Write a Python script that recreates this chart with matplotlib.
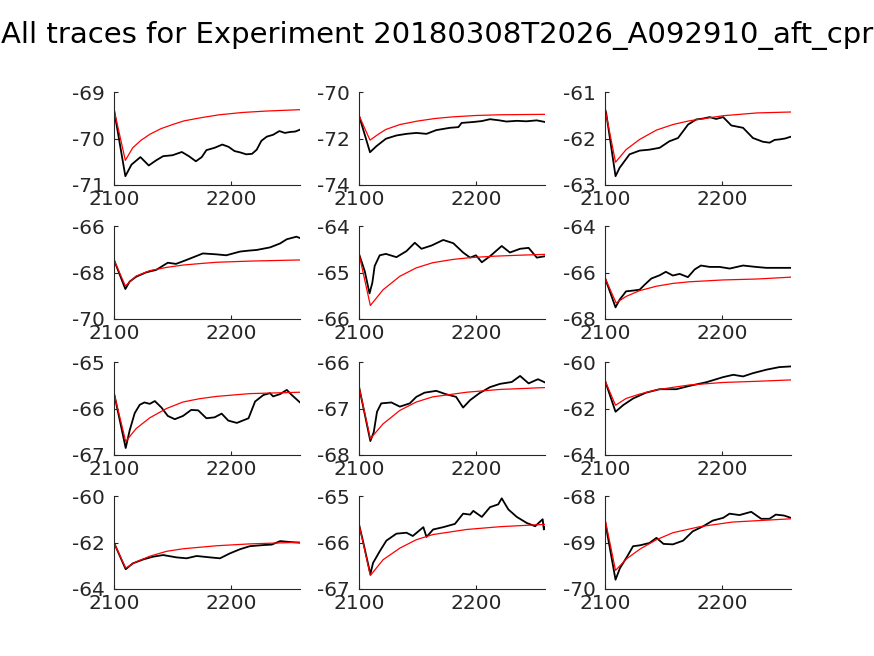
import matplotlib
matplotlib.use("Agg")
import matplotlib.pyplot as plt

title = "All traces for Experiment 20180308T2026_A092910_aft_cpr"

# ---- panel data (time, value) ----
p1_t = [2100, 2109.7, 2115, 2122.6, 2129.7, 2136, 2142, 2150, 2158, 2164, 2170, 2175, 2179, 2186, 2192.6, 2198, 2203, 2208, 2213, 2218, 2222, 2226, 2230.6, 2236, 2241.4, 2246, 2250.6, 2255, 2259]
p1_v = [-69.38, -70.81, -70.56, -70.40, -70.58, -70.47, -70.38, -70.36, -70.29, -70.38, -70.49, -70.40, -70.25, -70.20, -70.13, -70.18, -70.27, -70.30, -70.34, -70.33, -70.24, -70.05, -69.96, -69.92, -69.84, -69.88, -69.86, -69.85, -69.81]
p1_ft = [2100, 2109.7, 2116, 2123, 2130.6, 2140, 2150, 2160, 2175, 2190, 2210, 2230, 2259]
p1_fv = [-69.38, -70.47, -70.20, -70.04, -69.91, -69.79, -69.70, -69.62, -69.55, -69.49, -69.44, -69.41, -69.38]

p2_t = [2100, 2109.4, 2114.9, 2123, 2132, 2140.6, 2149, 2157.7, 2166, 2177.7, 2185, 2187.7, 2197.7, 2205, 2212, 2220, 2226, 2235, 2243, 2252, 2259]
p2_v = [-71.01, -72.59, -72.33, -72.01, -71.87, -71.80, -71.76, -71.80, -71.64, -71.54, -71.51, -71.33, -71.29, -71.25, -71.17, -71.22, -71.27, -71.24, -71.26, -71.22, -71.29]
p2_ft = [2100, 2109.4, 2117, 2123, 2135, 2150, 2165, 2180, 2200, 2220, 2240, 2259]
p2_fv = [-71.01, -72.07, -71.80, -71.61, -71.40, -71.25, -71.14, -71.07, -71.01, -70.98, -70.97, -70.96]

p3_t = [2100, 2101, 2109, 2112.5, 2121, 2129.6, 2138, 2146.7, 2155, 2162.4, 2171, 2178, 2184, 2189.5, 2195, 2201, 2208, 2218, 2226.5, 2235, 2240.7, 2245, 2249, 2254, 2259]
p3_v = [-61.36, -61.45, -62.81, -62.63, -62.34, -62.26, -62.24, -62.20, -62.06, -61.99, -61.70, -61.59, -61.57, -61.54, -61.58, -61.54, -61.72, -61.77, -61.99, -62.07, -62.09, -62.03, -62.02, -62.00, -61.96]
p3_ft = [2100, 2109, 2118, 2129.6, 2143.9, 2158, 2172, 2201, 2230, 2259]
p3_fv = [-61.36, -62.51, -62.24, -62.02, -61.82, -61.70, -61.62, -61.51, -61.45, -61.43]

p4_t = [2100, 2109.7, 2113.4, 2119, 2127.7, 2136, 2146, 2153, 2162, 2170, 2176, 2187.7, 2196, 2207.7, 2215, 2222, 2233.4, 2242, 2247.7, 2256, 2259]
p4_v = [-67.46, -68.71, -68.39, -68.18, -67.99, -67.89, -67.58, -67.63, -67.46, -67.30, -67.18, -67.22, -67.26, -67.10, -67.06, -67.03, -66.92, -66.75, -66.57, -66.46, -66.52]
p4_ft = [2100, 2109.7, 2119, 2130.6, 2145, 2159, 2175, 2187.7, 2216, 2259]
p4_fv = [-67.46, -68.58, -68.15, -67.92, -67.78, -67.68, -67.61, -67.56, -67.51, -67.46]

p5_t = [2100, 2104.9, 2109, 2111.4, 2113.4, 2117.7, 2123, 2132, 2140.6, 2147.7, 2153.4, 2162, 2172, 2180.6, 2189, 2195, 2200, 2205, 2212, 2222, 2229, 2237.7, 2245, 2252, 2259]
p5_v = [-64.60, -64.97, -65.45, -65.22, -64.86, -64.63, -64.60, -64.67, -64.54, -64.36, -64.49, -64.42, -64.30, -64.37, -64.57, -64.68, -64.63, -64.78, -64.65, -64.43, -64.57, -64.49, -64.47, -64.68, -64.65]
p5_ft = [2100, 2109.7, 2120.6, 2135, 2149, 2163, 2180, 2195, 2215, 2235, 2259]
p5_fv = [-64.60, -65.71, -65.37, -65.08, -64.90, -64.79, -64.72, -64.68, -64.65, -64.63, -64.61]

p6_t = [2100, 2109, 2112.5, 2118, 2123.6, 2129.6, 2134, 2139.6, 2146.7, 2152, 2158, 2163.8, 2170.9, 2176.6, 2182, 2189.5, 2198, 2206.6, 2218, 2229, 2238, 2249, 2259]
p6_v = [-66.23, -67.50, -67.17, -66.81, -66.78, -66.74, -66.52, -66.26, -66.12, -65.97, -66.13, -66.06, -66.20, -65.87, -65.70, -65.76, -65.76, -65.83, -65.70, -65.76, -65.80, -65.80, -65.80]
p6_ft = [2100, 2109.5, 2118, 2129.6, 2144, 2158, 2172, 2201, 2230, 2259]
p6_fv = [-66.23, -67.31, -67.03, -66.78, -66.59, -66.47, -66.40, -66.32, -66.28, -66.20]

p7_t = [2100, 2110, 2113.4, 2117.7, 2122, 2126, 2130.6, 2134.9, 2140.6, 2146, 2152, 2159, 2166, 2172, 2179, 2186, 2192, 2197.7, 2205, 2215, 2220.6, 2227.7, 2233.4, 2236, 2242, 2247.7, 2252, 2259]
p7_v = [-65.67, -66.85, -66.47, -66.10, -65.92, -65.87, -65.90, -65.84, -65.98, -66.16, -66.23, -66.16, -66.03, -66.04, -66.21, -66.19, -66.11, -66.26, -66.31, -66.21, -65.85, -65.71, -65.67, -65.74, -65.69, -65.60, -65.71, -65.87]
p7_ft = [2100, 2110, 2119, 2130.6, 2144.9, 2159, 2173, 2187.7, 2216, 2259]
p7_fv = [-65.67, -66.71, -66.43, -66.20, -66.00, -65.86, -65.79, -65.74, -65.68, -65.65]

p8_t = [2100, 2109.7, 2112.6, 2115.4, 2119, 2127.7, 2134.9, 2143.4, 2149, 2156, 2166, 2174, 2183, 2189, 2195, 2203, 2212, 2220.6, 2230.6, 2237.7, 2245, 2253, 2259]
p8_v = [-66.53, -67.70, -67.51, -67.07, -66.89, -66.87, -66.96, -66.89, -66.75, -66.66, -66.62, -66.69, -66.75, -66.98, -66.82, -66.67, -66.54, -66.47, -66.43, -66.30, -66.46, -66.37, -66.44]
p8_ft = [2100, 2109.7, 2120.6, 2135, 2149, 2163, 2177.7, 2192, 2220.6, 2259]
p8_fv = [-66.53, -67.65, -67.33, -67.04, -66.86, -66.75, -66.70, -66.65, -66.59, -66.55]

p9_t = [2100, 2109, 2115.4, 2124, 2135, 2146.7, 2161, 2172, 2186.6, 2201, 2209.7, 2218, 2226.5, 2238, 2249, 2259]
p9_v = [-60.80, -62.14, -61.86, -61.57, -61.32, -61.17, -61.17, -61.03, -60.87, -60.65, -60.55, -60.62, -60.48, -60.33, -60.22, -60.19]
p9_ft = [2100, 2109, 2118, 2129.6, 2144, 2158, 2172, 2201, 2230, 2259]
p9_fv = [-60.80, -61.86, -61.57, -61.38, -61.20, -61.09, -60.99, -60.88, -60.83, -60.77]

p10_t = [2100, 2110, 2116, 2124.9, 2133.4, 2142, 2153.4, 2162, 2170.6, 2182, 2190.6, 2199, 2207.7, 2216, 2227.7, 2234.9, 2242, 2250.6, 2259]
p10_v = [-62.01, -63.15, -62.90, -62.73, -62.61, -62.54, -62.64, -62.68, -62.58, -62.64, -62.68, -62.47, -62.29, -62.16, -62.11, -62.09, -61.94, -61.98, -62.01]
p10_ft = [2100, 2110, 2119, 2130.6, 2144.9, 2159, 2187.7, 2216, 2259]
p10_fv = [-62.01, -63.10, -62.83, -62.59, -62.38, -62.27, -62.14, -62.06, -61.99]

p11_t = [2100, 2103.4, 2109.7, 2112, 2117.7, 2123.4, 2132, 2140.6, 2146, 2155, 2157.7, 2163.4, 2172, 2182, 2189, 2195, 2197.7, 2205, 2212, 2219, 2222, 2227.7, 2234.9, 2243.4, 2250.6, 2257, 2258, 2259]
p11_v = [-65.61, -65.97, -66.68, -66.44, -66.19, -65.96, -65.81, -65.79, -65.86, -65.67, -65.88, -65.72, -65.67, -65.60, -65.38, -65.40, -65.32, -65.45, -65.24, -65.18, -65.05, -65.29, -65.45, -65.58, -65.65, -65.50, -65.72, -65.67]
p11_ft = [2100, 2109.7, 2120.6, 2135, 2149, 2163, 2192, 2220.6, 2259]
p11_fv = [-65.61, -66.71, -66.37, -66.12, -65.94, -65.83, -65.72, -65.66, -65.61]

p12_t = [2100, 2109, 2112.8, 2118.5, 2124, 2130, 2138, 2144, 2150, 2158, 2166.8, 2175, 2184, 2192, 2201, 2206.5, 2215, 2225, 2233.5, 2240.6, 2246, 2253, 2259]
p12_v = [-68.54, -69.80, -69.55, -69.32, -69.08, -69.06, -69.01, -68.90, -69.03, -69.04, -68.96, -68.76, -68.65, -68.53, -68.47, -68.38, -68.41, -68.34, -68.49, -68.49, -68.40, -68.42, -68.47]
p12_ft = [2100, 2109, 2118.5, 2130, 2144, 2158, 2181, 2209, 2238, 2259]
p12_fv = [-68.49, -69.60, -69.35, -69.14, -68.94, -68.79, -68.66, -68.56, -68.52, -68.49]

traces = [(p1_t, p1_v), (p2_t, p2_v), (p3_t, p3_v), (p4_t, p4_v), (p5_t, p5_v), (p6_t, p6_v),
          (p7_t, p7_v), (p8_t, p8_v), (p9_t, p9_v), (p10_t, p10_v), (p11_t, p11_v), (p12_t, p12_v)]
fits = [(p1_ft, p1_fv), (p2_ft, p2_fv), (p3_ft, p3_fv), (p4_ft, p4_fv), (p5_ft, p5_fv), (p6_ft, p6_fv),
        (p7_ft, p7_fv), (p8_ft, p8_fv), (p9_ft, p9_fv), (p10_ft, p10_fv), (p11_ft, p11_fv), (p12_ft, p12_fv)]
ylims = [(-71, -69), (-74, -70), (-63, -61), (-70, -66), (-66, -64), (-68, -64),
         (-67, -65), (-68, -66), (-64, -60), (-64, -60), (-67, -65), (-70, -68)]
xticks = [2100, 2200]
xlim = (2100, 2259)

# ---- layout ----
W, H = 874, 656
fig = plt.figure(figsize=(W / 100, H / 100), dpi=100)
col_left = [114, 359, 605]
row_top = [92, 226, 362, 496]
ax_w, ax_h = 186, 93
axcol = "#262626"

for i in range(12):
    r, c = divmod(i, 3)
    ax = fig.add_axes([col_left[c] / W, 1 - (row_top[r] + ax_h) / H, ax_w / W, ax_h / H])
    t, v = traces[i]
    ft, fv = fits[i]
    ax.plot(t, v, color="black", lw=1.3)
    ax.plot(ft, fv, color="red", lw=0.9)
    lo, hi = ylims[i]
    ax.set_xlim(*xlim)
    ax.set_ylim(lo, hi)
    ax.set_xticks(xticks)
    ax.set_yticks([lo, (lo + hi) / 2, hi])
    ax.set_yticklabels([f"{y:g}" for y in [lo, (lo + hi) / 2, hi]])
    for s in ["top", "right"]:
        ax.spines[s].set_visible(False)
    for s in ["left", "bottom"]:
        ax.spines[s].set_color(axcol)
        ax.spines[s].set_linewidth(0.8)
    ax.tick_params(direction="in", length=3, width=0.8, colors=axcol, labelsize=14.5)
    ax.tick_params(axis="y", pad=6.5)
    ax.tick_params(axis="x", pad=3.5)

fig.text(0.5, 1 - 36 / H, title, ha="center", va="center", fontsize=21, color="black")
fig.savefig("out.png", dpi=100)
